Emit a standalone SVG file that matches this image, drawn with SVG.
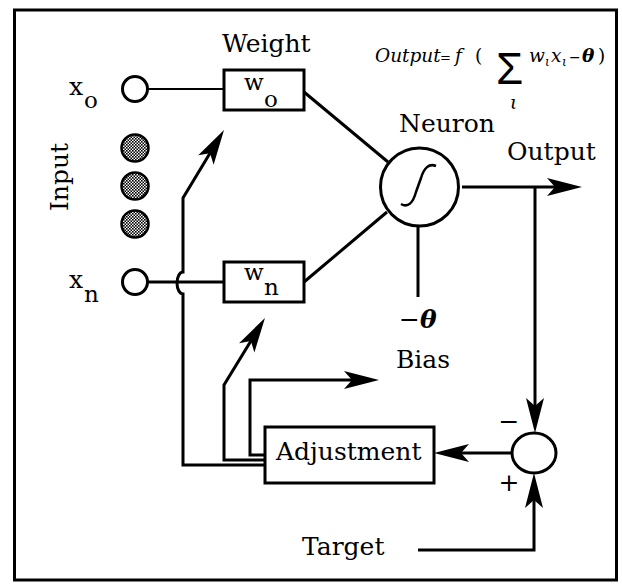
<svg xmlns="http://www.w3.org/2000/svg" width="622" height="584" viewBox="0 0 622 584">
<style>
.lbl{font-family:"DejaVu Serif","Liberation Serif",serif;font-size:25px;fill:#000}
.sub{font-family:"DejaVu Serif","Liberation Serif",serif;font-size:23px;fill:#000}
.math{font-family:"DejaVu Serif","Liberation Serif",serif;font-style:italic;font-size:18.5px;fill:#000}
.up{font-style:normal}
.ln{fill:none;stroke:#000;stroke-width:3}
.thin{fill:none;stroke:#000;stroke-width:2.2}
.box{fill:#fff;stroke:#000;stroke-width:3}
.arr{fill:none;stroke:#000;stroke-width:3;marker-end:url(#ah)}
</style>
<defs>
<marker id="ah" markerUnits="userSpaceOnUse" markerWidth="40" markerHeight="20" refX="-12" refY="0" orient="auto" overflow="visible">
<path d="M0,0 L-35,-9 L-27,0 L-35,9 Z" fill="#000"/>
</marker>
<pattern id="dots" patternUnits="userSpaceOnUse" width="3" height="3">
<rect width="3" height="3" fill="#fff"/>
<rect width="1.6" height="1.6" fill="#000"/>
<rect x="1.5" y="1.5" width="1.5" height="1.5" fill="#000"/>
</pattern>
</defs>
<rect x="14.5" y="10" width="602" height="570" fill="#fff" stroke="#000" stroke-width="3"/>

<g id="connectors">
<line class="thin" x1="147.5" y1="89" x2="224" y2="89"/>
<line class="ln" x1="148" y1="282" x2="224" y2="282"/>
<line class="ln" x1="304" y1="92" x2="388" y2="162"/>
<line class="ln" x1="304" y1="282" x2="387" y2="212"/>
<line class="ln" x1="418" y1="226" x2="418" y2="297"/>
<path class="arr" d="M462,187 H570"/>
<path class="arr" d="M535,187 V421"/>
<path class="arr" d="M418,550 H534 V485"/>
<path class="arr" d="M512,453 H446"/>
<path class="arr" d="M265,455 H250 V380 H367"/>
<path class="arr" d="M265,460 H224 V385 L258.7,328.2"/>
<path class="arr" d="M265,465 H183 V294 A6,11 0 0 1 183,272 V198 L217.8,140.3"/>
</g>

<g id="input-x0">
<circle cx="135" cy="89" r="12.5" fill="#fff" stroke="#000" stroke-width="3"/>
<text class="lbl" x="69" y="95">x</text>
<text class="sub" x="84" y="108">o</text>
</g>
<g id="input-dots">
<circle cx="135" cy="148" r="13.5" fill="url(#dots)" stroke="#000" stroke-width="2.5"/>
<circle cx="135" cy="186" r="13.5" fill="url(#dots)" stroke="#000" stroke-width="2.5"/>
<circle cx="135" cy="224" r="13.5" fill="url(#dots)" stroke="#000" stroke-width="2.5"/>
</g>
<g id="input-xn">
<circle cx="135" cy="282" r="12.5" fill="#fff" stroke="#000" stroke-width="3"/>
<text class="lbl" x="69" y="288">x</text>
<text class="sub" x="84" y="302">n</text>
</g>
<g id="input-label">
<text class="lbl" transform="translate(68,177) rotate(-90)" text-anchor="middle">Input</text>
</g>

<g id="weight-label">
<text class="lbl" x="222" y="52">Weight</text>
</g>
<g id="w0">
<rect class="box" x="224" y="70" width="80" height="40"/>
<text class="sub" x="244" y="90">w</text>
<text class="sub" x="264" y="107">o</text>
</g>
<g id="wn">
<rect class="box" x="224" y="262" width="80" height="40"/>
<text class="sub" x="244" y="280">w</text>
<text class="sub" x="264" y="295">n</text>
</g>

<g id="formula">
<text class="math" y="62"><tspan x="375">Output</tspan><tspan x="440" class="up" font-size="13">=</tspan><tspan x="455">f</tspan><tspan x="475" class="up">(</tspan><tspan x="529">w</tspan><tspan x="545" dy="4" font-size="12">ι</tspan><tspan x="551" dy="-4">x</tspan><tspan x="562" dy="4" font-size="12">ι</tspan><tspan x="569" dy="-4" class="up" font-size="14">−</tspan><tspan x="582" font-weight="bold">θ</tspan><tspan x="598" class="up">)</tspan></text>
<text x="496" y="84" font-family="'Liberation Sans',sans-serif" font-size="44" fill="#000">Σ</text>
<text class="math" x="510" y="109" font-size="13">ι</text>
</g>

<g id="neuron">
<text class="lbl" x="399" y="132">Neuron</text>
<circle cx="419.5" cy="187" r="39" fill="#fff" stroke="#000" stroke-width="3"/>
<path d="M401,204 C408,208 413,203 416,192 L421,178 C424,168 429,163 436,166" fill="none" stroke="#000" stroke-width="2.5"/>
</g>
<g id="output-label">
<text class="lbl" x="507" y="160">Output</text>
</g>
<g id="bias">
<text class="lbl" x="399" y="328">−<tspan font-weight="bold" font-style="italic">θ</tspan></text>
<text class="lbl" x="396" y="368">Bias</text>
</g>
<g id="adjustment">
<rect class="box" x="265" y="427" width="169" height="56"/>
<text class="lbl" x="276" y="460">Adjustment</text>
</g>
<g id="sum">
<ellipse cx="534" cy="453" rx="22" ry="20" fill="#fff" stroke="#000" stroke-width="3"/>
<text class="lbl" x="509" y="430" text-anchor="middle" font-size="22">−</text>
<text class="lbl" x="509" y="491" text-anchor="middle" font-size="22">+</text>
</g>
<g id="target">
<text class="lbl" x="302" y="555">Target</text>
</g>
</svg>
